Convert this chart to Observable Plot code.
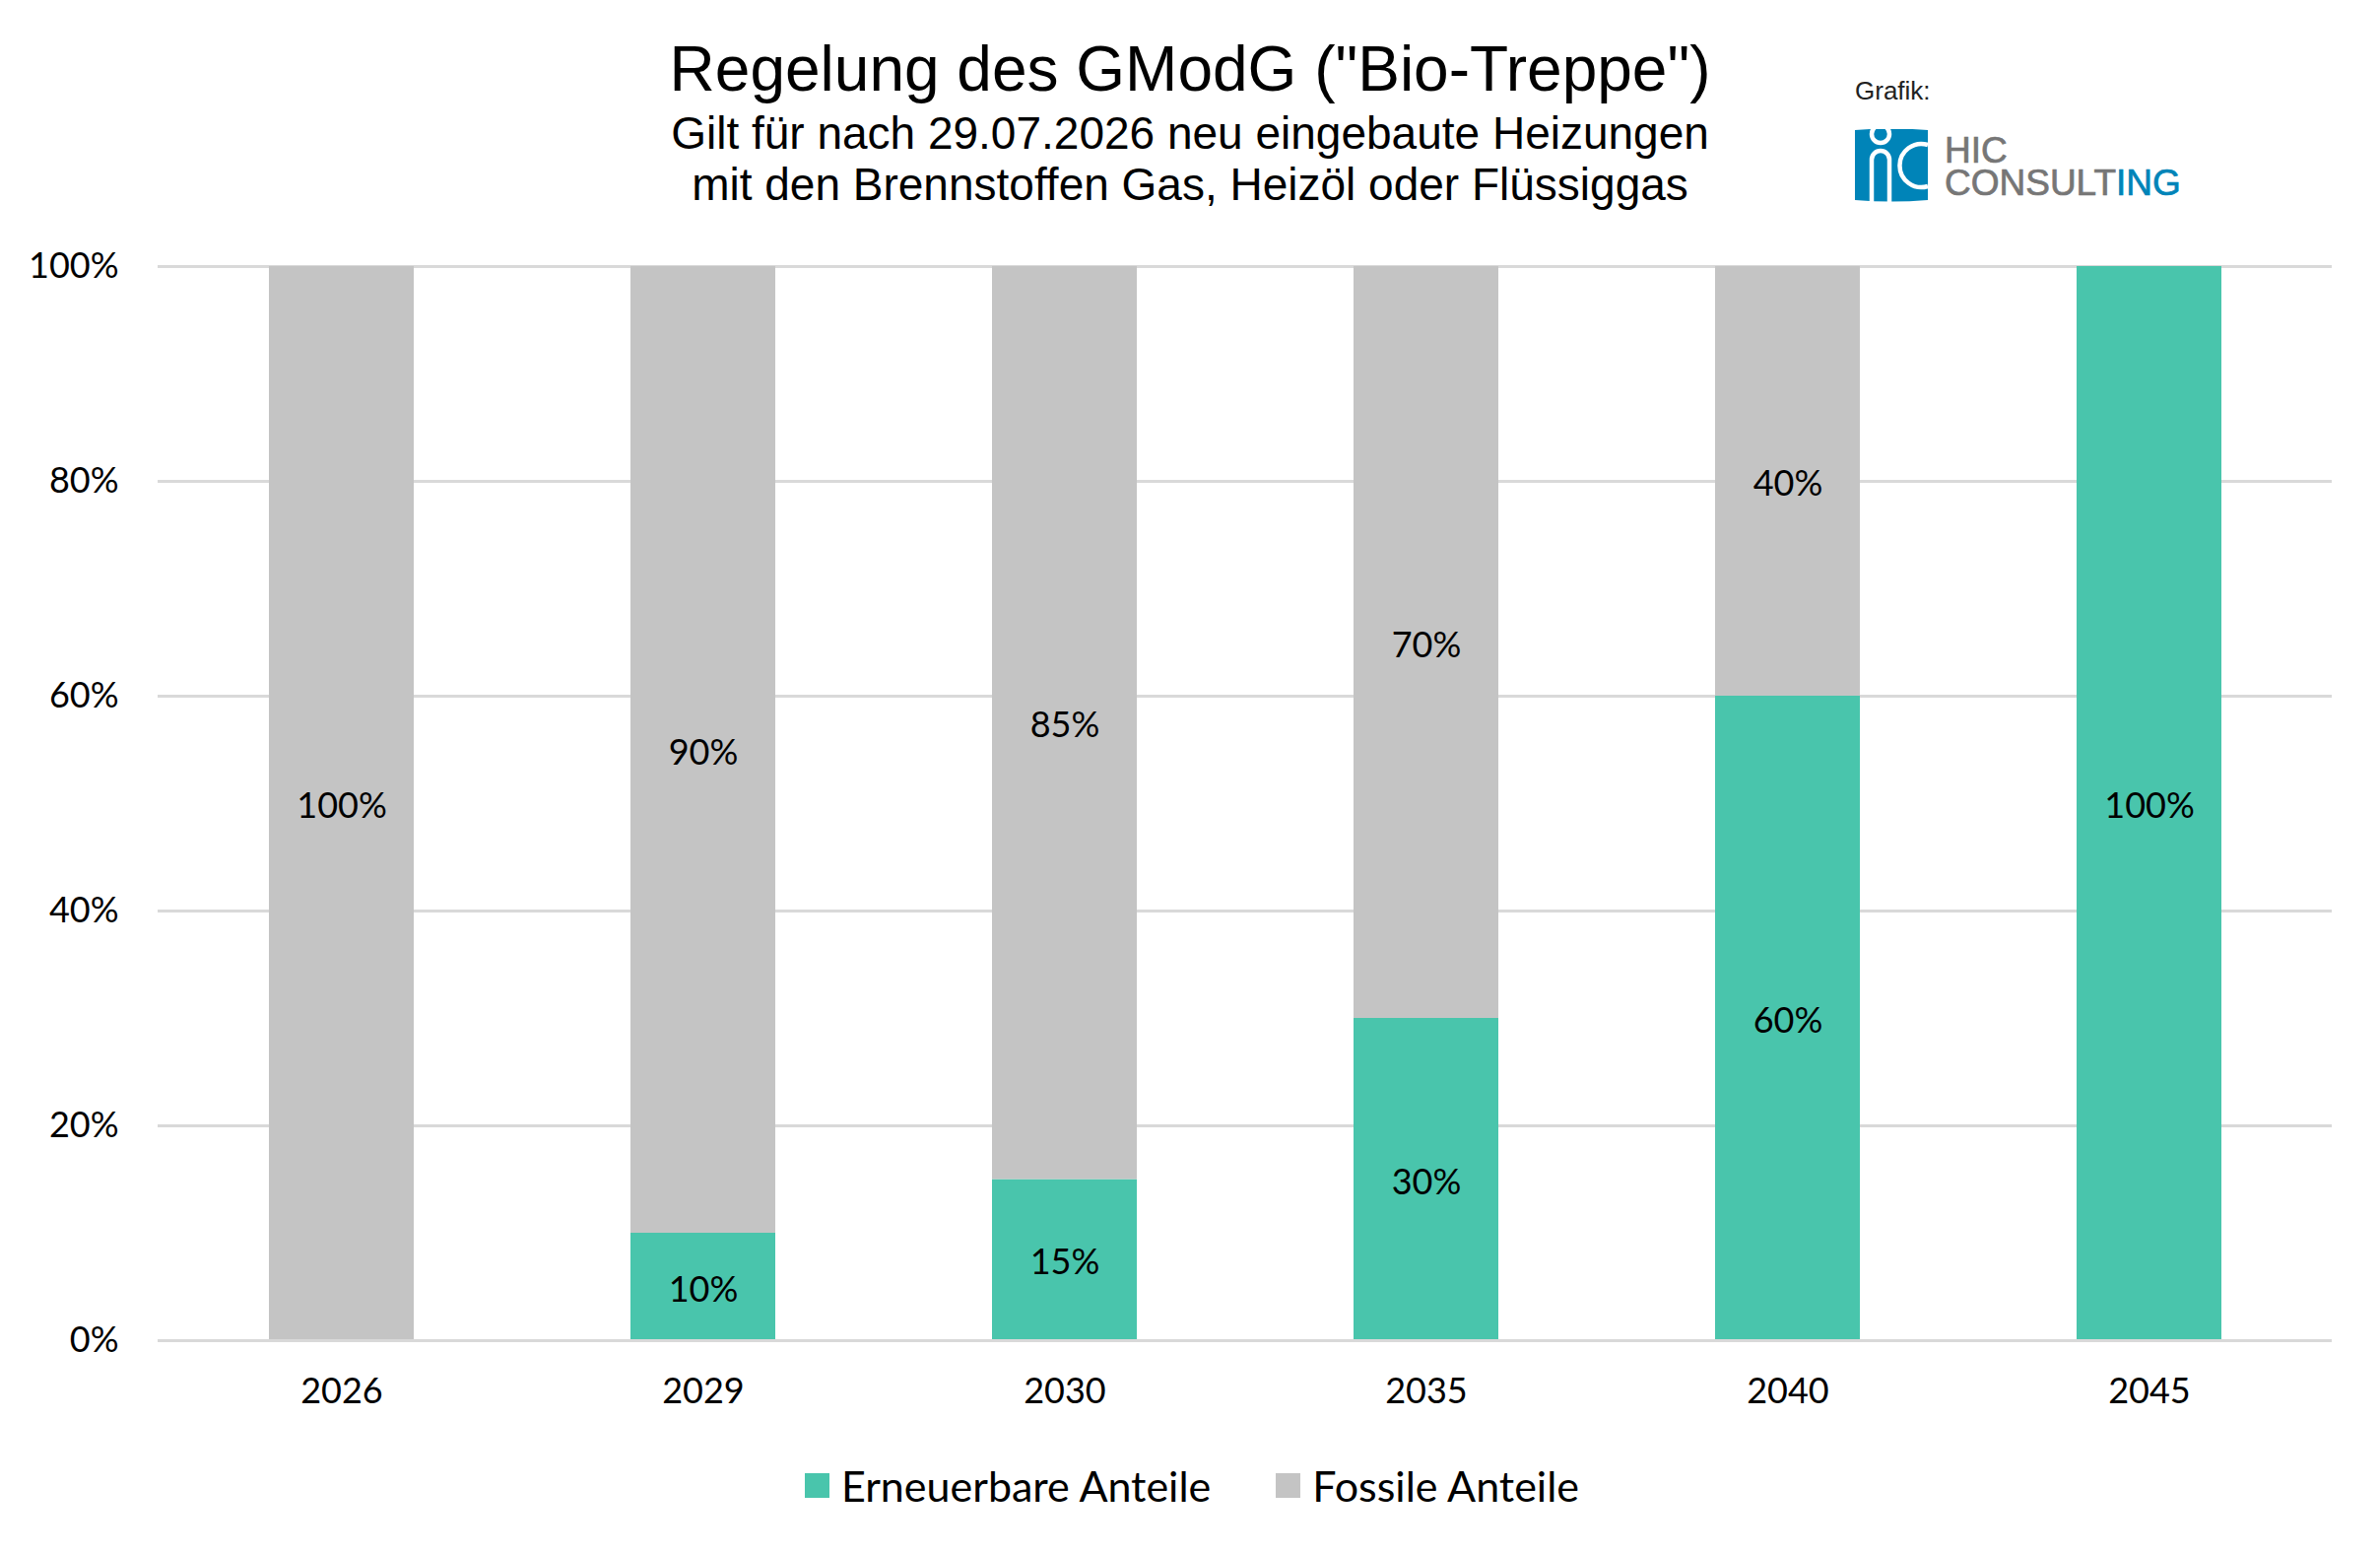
<!DOCTYPE html>
<html>
<head>
<meta charset="utf-8">
<script src="https://cdn.jsdelivr.net/npm/d3@7"></script>
<script src="https://cdn.jsdelivr.net/npm/@observablehq/plot@0.6"></script>
<style>
  html, body { margin: 0; padding: 0; background: #fff; }
  #page { position: relative; width: 2416px; height: 1577px; overflow: hidden; }
  #header { position: relative; height: 240px; }
  #title { position: absolute; left: 0; width: 2416px; top: 32px; text-align: center;
           font-family: "Liberation Sans", Arial, sans-serif; font-size: 64px; line-height: 76px; color: #000; }
  #subtitle { position: absolute; left: 0; width: 2416px; top: 109px; text-align: center;
           font-family: "Liberation Sans", Arial, sans-serif; font-size: 46px; line-height: 52px; color: #000; }
  #grafik { position: absolute; left: 1883px; top: 77px; font-family: "Liberation Sans", Arial, sans-serif;
           font-size: 26px; color: #222; }
  #logo { position: absolute; left: 1883px; top: 131px; }
  #legend { display: flex; justify-content: center; align-items: center; height: 114px;
           font-family: Lato, "Open Sans", sans-serif; font-size: 43px; color: #000; padding-left: 4px; }
  .item { display: flex; align-items: center; margin: 0 33px; }
  .sw { width: 25px; height: 25px; margin-right: 12px; }
</style>
</head>
<body>
<div id="page">
  <div id="header">
    <div id="title">Regelung des GModG ("Bio-Treppe")</div>
    <div id="subtitle">Gilt für nach 29.07.2026 neu eingebaute Heizungen<br>mit den Brennstoffen Gas, Heizöl oder Flüssiggas</div>
    <div id="grafik">Grafik:</div>
    <svg id="logo" width="560" height="80" viewBox="0 0 560 80">
      <path d="M0,1 Q37,-2 74,1 L74,72 Q37,75 0,72 Z" fill="#0084B8"/>
      <circle cx="26" cy="5" r="9" fill="none" stroke="#fff" stroke-width="4.5"/>
      <path d="M17,74 L17,31 A9,9 0 0 1 35,31 L35,74" fill="none" stroke="#fff" stroke-width="4.5"/>
      <path d="M74,16 A22,22 0 1 0 74,58" fill="none" stroke="#fff" stroke-width="4.5"/>
      <text font-family="Liberation Sans, Arial, sans-serif" font-size="37" fill="#767676" stroke="#767676" stroke-width="0.7"><tspan x="91" y="34">HIC</tspan><tspan x="91" y="67">CONSULT</tspan><tspan fill="#0084B8" stroke="#0084B8">ING</tspan></text>
    </svg>
  </div>
  <div id="chart"></div>
  <div id="legend"></div>
</div>
<script>
const years = ["2026", "2029", "2030", "2035", "2040", "2045"];
const renewable = [0, 10, 15, 30, 60, 100];
const fossil = [100, 90, 85, 70, 40, 0];
const seriesNames = ["Erneuerbare Anteile", "Fossile Anteile"];
const seriesColors = ["#49C5AC", "#C4C4C4"];
const yTicks = [0, 20, 40, 60, 80, 100];

const data = [];
years.forEach((yr, i) => {
  data.push({year: yr, type: seriesNames[0], value: renewable[i]});
  data.push({year: yr, type: seriesNames[1], value: fossil[i]});
});
const labelled = data.filter(d => d.value > 0);

const chart = Plot.plot({
  width: 2416,
  height: 1210,
  marginTop: 30,
  marginBottom: 90,
  marginLeft: 160,
  marginRight: 49,
  style: {fontFamily: "Lato, 'Open Sans', sans-serif", fontSize: "36px", color: "#000", background: "#fff"},
  x: {domain: years, paddingInner: 0.6, paddingOuter: 0.3, label: null},
  y: {domain: [0, 100], label: null},
  color: {domain: seriesNames, range: seriesColors},
  marks: [
    Plot.gridY(yTicks, {stroke: "#D9D9D9", strokeOpacity: 1, strokeWidth: 3}),
    Plot.axisY({ticks: yTicks, tickSize: 0, tickPadding: 40, tickFormat: d => d + "%", label: null, fontSize: 36}),
    Plot.axisX({tickSize: 0, tickPadding: 38, label: null, fontSize: 36}),
    Plot.barY(data, {x: "year", y: "value", fill: "type", order: seriesNames}),
    Plot.ruleY([0], {stroke: "#D9D9D9", strokeWidth: 3}),
    Plot.text(labelled, Plot.stackY({x: "year", y: "value", z: "type", order: seriesNames,
      text: d => d.value + "%", fill: "#000", fontSize: 36, lineAnchor: "middle", dy: 3}))
  ]
});
document.getElementById("chart").appendChild(chart);

const legend = document.getElementById("legend");
seriesNames.forEach((name, i) => {
  const item = document.createElement("div");
  item.className = "item";
  const sw = document.createElement("div");
  sw.className = "sw";
  sw.style.background = seriesColors[i];
  const label = document.createElement("span");
  label.textContent = name;
  item.appendChild(sw);
  item.appendChild(label);
  legend.appendChild(item);
});
</script>
</body>
</html>
